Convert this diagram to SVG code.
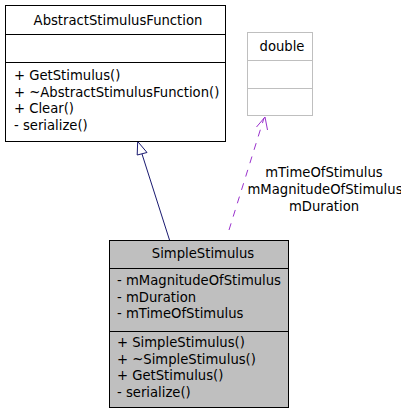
<svg xmlns="http://www.w3.org/2000/svg" width="401" height="413" viewBox="0 0 401 413">
<style>
text{font-family:"DejaVu Sans","Liberation Sans",sans-serif;font-size:13.2px;fill:#000}
.c{text-anchor:middle}
.box{fill:#fff;stroke:#000;stroke-width:1}
.gbox{fill:#fff;stroke:#bfbfbf;stroke-width:1}
.sel{fill:#bfbfbf;stroke:#000;stroke-width:1}
</style>
<rect width="401" height="413" fill="#fff"/>
<g id="connectors">
<path d="M169.5,240 L142,154" fill="none" stroke="#191970" stroke-width="1"/>
<polygon points="137.7,141.5 137.2,155 147,152.5" fill="#fff" stroke="#191970" stroke-width="1"/>
<path d="M229,230 L264,118" fill="none" stroke="#9a32cd" stroke-width="1" stroke-dasharray="7,7"/>
<path d="M256.5,127 L265,117 L267.5,130" fill="none" stroke="#9a32cd" stroke-width="1"/>
<text class="c" x="324" y="177">mTimeOfStimulus</text>
<text class="c" x="325" y="194">mMagnitudeOfStimulus</text>
<text class="c" x="324" y="211">mDuration</text>
</g>
<g id="AbstractStimulusFunction">
<rect class="box" x="5.5" y="5.5" width="220" height="136"/>
<line x1="5.5" y1="34.5" x2="225.5" y2="34.5" stroke="#000"/>
<line x1="5.5" y1="62.5" x2="225.5" y2="62.5" stroke="#000"/>
<text class="c" x="118" y="25">AbstractStimulusFunction</text>
<text x="14" y="80">+ GetStimulus()</text>
<text x="14" y="96.5">+ ~AbstractStimulusFunction()</text>
<text x="14" y="113">+ Clear()</text>
<text x="14" y="129.5">- serialize()</text>
</g>
<g id="double">
<rect class="gbox" x="247.5" y="32.5" width="65" height="83"/>
<line x1="247.5" y1="60.5" x2="312.5" y2="60.5" stroke="#bfbfbf"/>
<line x1="247.5" y1="88.5" x2="312.5" y2="88.5" stroke="#bfbfbf"/>
<text class="c" x="282" y="51">double</text>
</g>
<g id="SimpleStimulus">
<rect class="sel" x="109.5" y="240.5" width="179" height="167"/>
<line x1="109.5" y1="268.5" x2="288.5" y2="268.5" stroke="#000"/>
<line x1="109.5" y1="331.5" x2="288.5" y2="331.5" stroke="#000"/>
<text class="c" x="203" y="258">SimpleStimulus</text>
<text x="117" y="285">- mMagnitudeOfStimulus</text>
<text x="117" y="301.5">- mDuration</text>
<text x="117" y="318">- mTimeOfStimulus</text>
<text x="117" y="347">+ SimpleStimulus()</text>
<text x="117" y="363.5">+ ~SimpleStimulus()</text>
<text x="117" y="380">+ GetStimulus()</text>
<text x="117" y="396.5">- serialize()</text>
</g>
</svg>
